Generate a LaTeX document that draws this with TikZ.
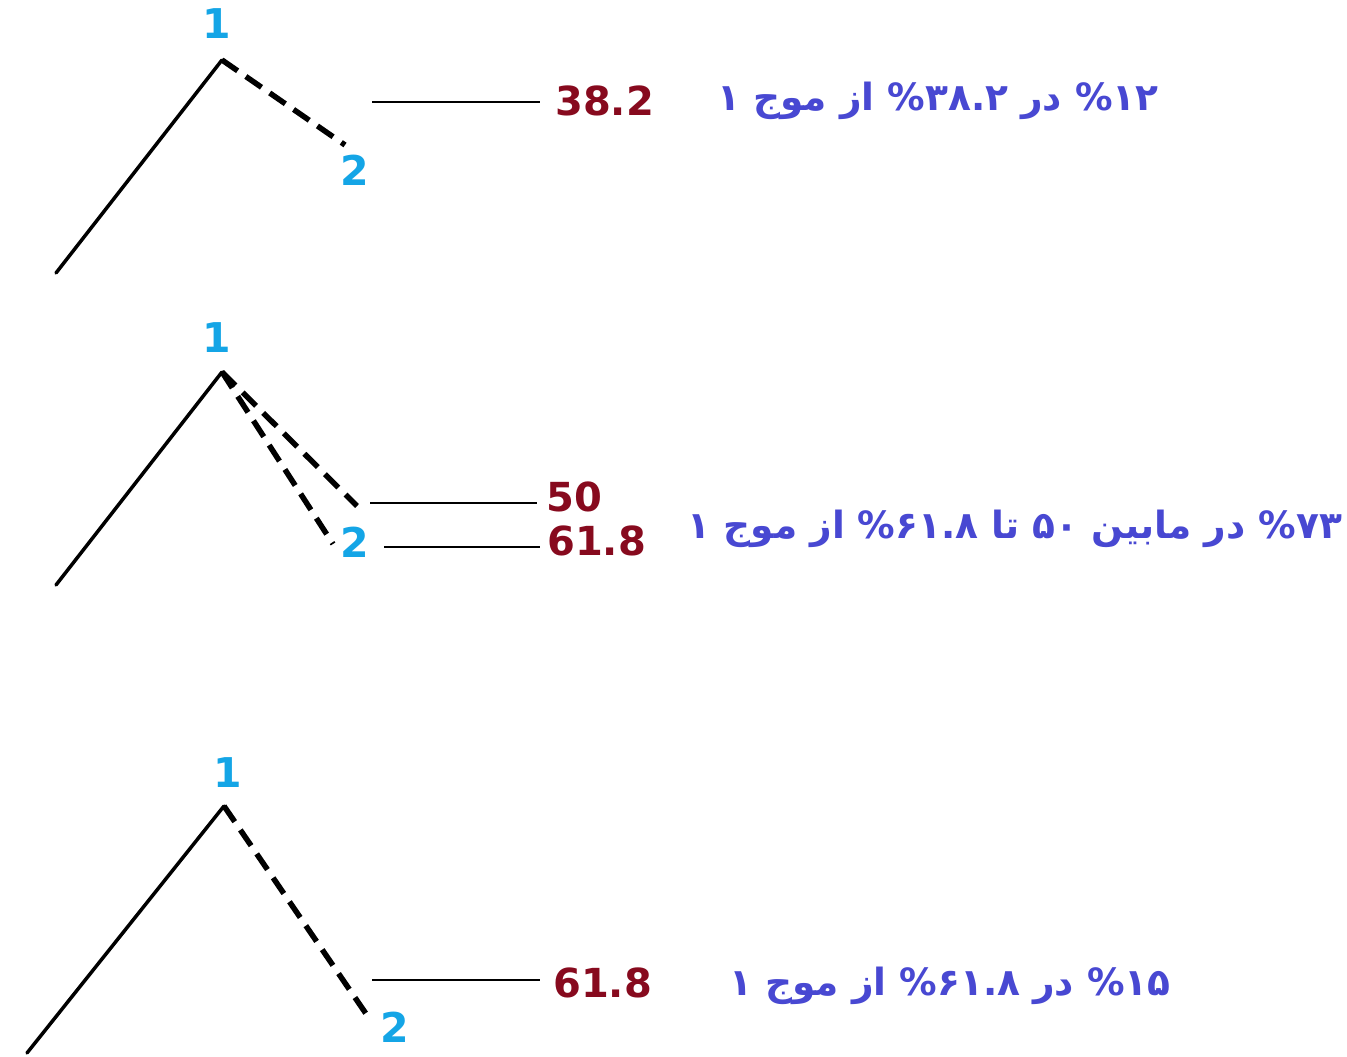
\documentclass[tikz,border=0pt]{standalone}
\usepackage{fontspec}
\setmainfont{DejaVu Sans}
\newfontfamily\fa[Script=Arabic]{DejaVu Sans}
\TeXXeTstate=1
\definecolor{labcyan}{RGB}{20,165,230}
\definecolor{numred}{RGB}{135,10,30}
\definecolor{fablue}{RGB}{72,72,210}
\begin{document}
\begin{tikzpicture}[x=1pt,y=-1pt,
  wave/.style={line width=3.5pt, line cap=round, line join=miter},
  retrace/.style={line width=5.5pt, dash pattern=on 19pt off 10pt},
  level/.style={line width=1.3pt},
  lab/.style={font=\fontsize{41}{41}\selectfont\bfseries, text=labcyan, inner sep=0pt},
  num/.style={font=\fontsize{40}{40}\selectfont\bfseries, text=numred, inner sep=0pt, anchor=west},
  fatext/.style={font=\fa\bfseries\fontsize{37.5}{42}\selectfont, text=fablue, inner sep=0pt}]
\useasboundingbox[fill=white] (0,0) rectangle (1347,1057);

% ---------- panel 1 ----------
\coordinate (s1) at (56,273);
\coordinate (p1) at (222,60);
\coordinate (e1) at (345,145);
\draw[wave] (s1) -- (p1);
\draw[retrace] (p1) -- (e1);
\node[lab] (one1) at (217,24) {1};
\node[lab] (two1) at (355,170) {2};
\coordinate (h1a) at (372,102);
\coordinate (h1e) at (540,102);
\draw[level] (h1a) -- (h1e);
\node[num] (n1) at (555,101) {38.2};
\node[fatext] (t1) at (938,101) {\beginR\beginL۱۲\endL\% در \beginL۳۸.۲\endL\% از موج ۱\endR};

% ---------- panel 2 ----------
\coordinate (s2) at (56,585);
\coordinate (p2) at (222,372);
\coordinate (e2a) at (357,506);
\coordinate (e2b) at (333,544);
\draw[wave] (s2) -- (p2);
\draw[retrace] (p2) -- (e2a);
\draw[retrace] (p2) -- (e2b);
\node[lab] (one2) at (217,338) {1};
\node[lab] (two2) at (355,542) {2};
\node[num] (n2a) at (546,497) {50};
\node[num] (n2b) at (547,541) {61.8};
\coordinate (h2a) at (370,503);
\coordinate (h2b) at (384,547);
\coordinate (h2ae) at (537,503);
\coordinate (h2be) at (540,547);
\draw[level] (h2a) -- (h2ae);
\draw[level] (h2b) -- (h2be);
\node[fatext] (t2) at (1015,529) {\beginR\beginL۷۳\endL\% در مابین \beginL۵۰\endL{} تا \beginL۶۱.۸\endL\% از موج ۱\endR};

% ---------- panel 3 ----------
\coordinate (s3) at (27,1053);
\coordinate (p3) at (224,806);
\coordinate (e3) at (371,1021);
\draw[wave] (s3) -- (p3);
\draw[retrace] (p3) -- (e3);
\node[lab] (one3) at (228,773) {1};
\node[lab] (two3) at (395,1027) {2};
\node[num] (n3) at (553,983) {61.8};
\coordinate (h3a) at (372,980);
\coordinate (h3e) at (540,980);
\draw[level] (h3a) -- (h3e);
\node[fatext] (t3) at (950,986) {\beginR\beginL۱۵\endL\% در \beginL۶۱.۸\endL\% از موج ۱\endR};
\end{tikzpicture}
\end{document}
